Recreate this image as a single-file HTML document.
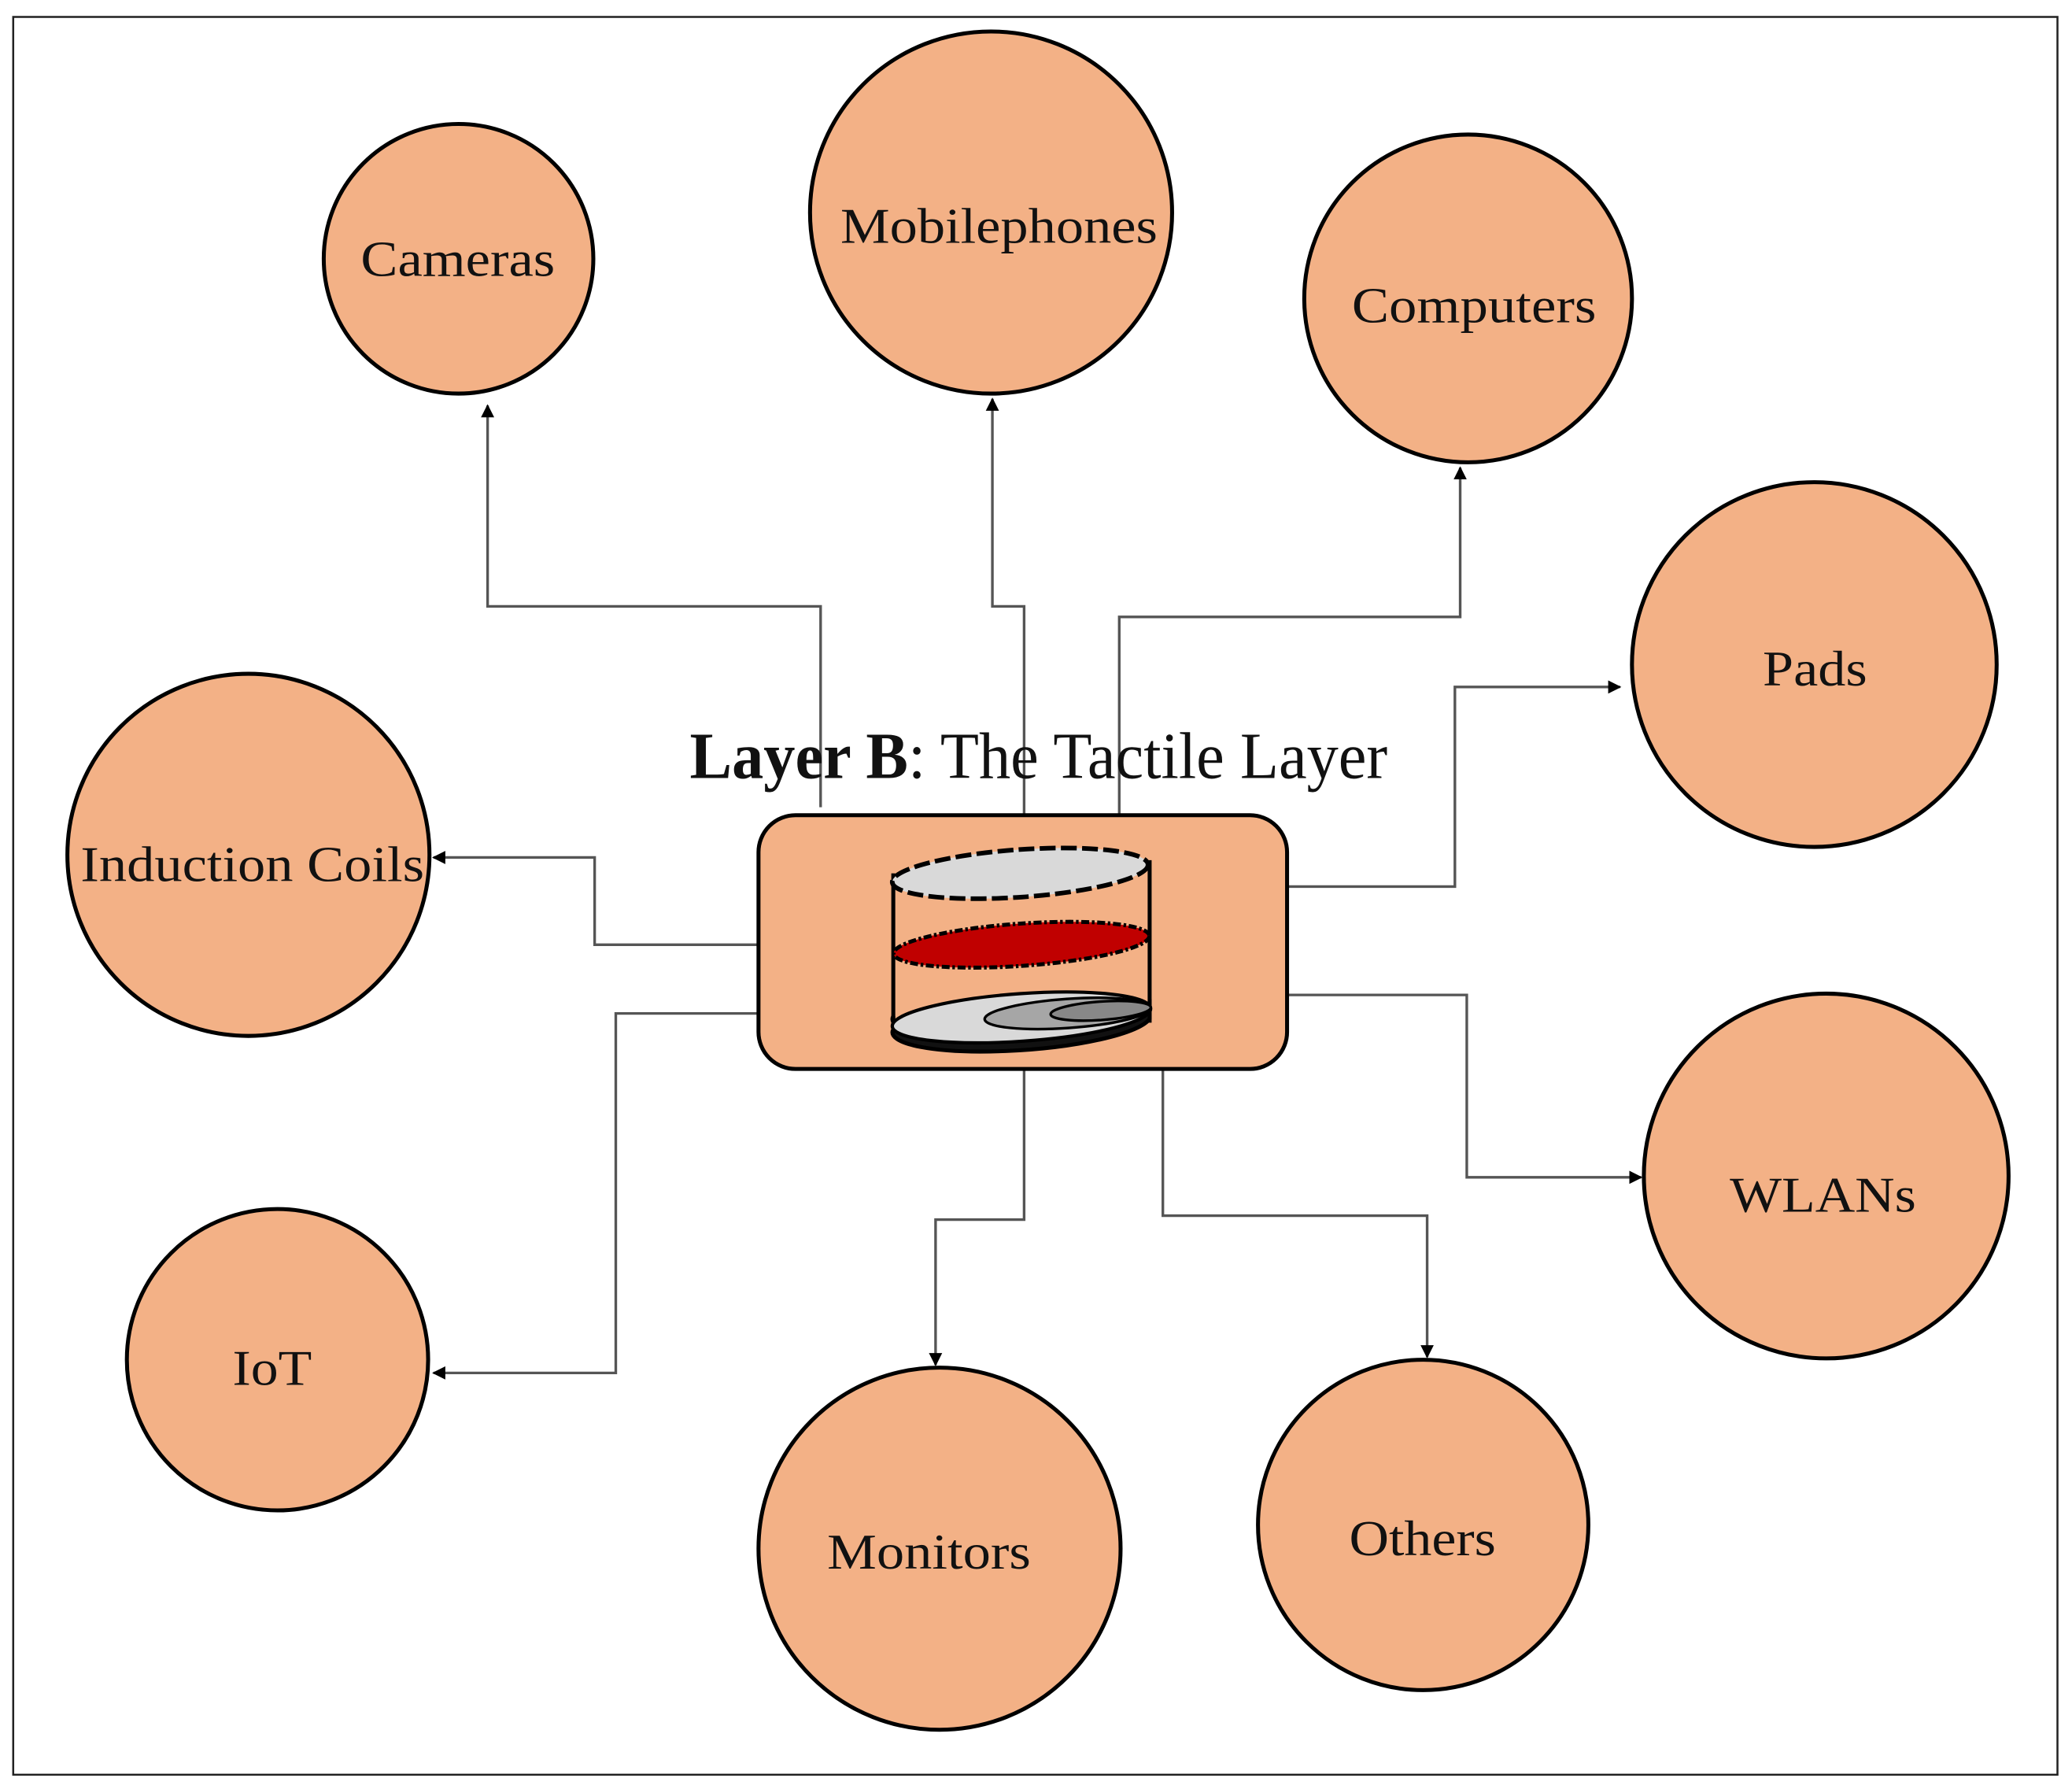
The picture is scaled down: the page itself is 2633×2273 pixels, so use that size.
<!DOCTYPE html>
<html><head><meta charset="utf-8"><style>html,body{margin:0;padding:0;background:#fff}svg{display:block}</style></head><body>
<svg width="2633" height="2273" viewBox="0 0 1568 1352" xmlns="http://www.w3.org/2000/svg" font-family="'Liberation Serif', serif">
<rect x="0" y="0" width="1568" height="1352" fill="#fff"/>
<rect x="10" y="12" width="1547" height="1330" fill="none" stroke="#222" stroke-width="1.5"/>
<defs><marker id="a" markerWidth="10" markerHeight="10" refX="9" refY="5" orient="auto" markerUnits="userSpaceOnUse"><path d="M0,0 L10,5 L0,10 z" fill="#000"/></marker></defs>
<g fill="none" stroke="#555" stroke-width="2">
<polyline points="621,610 621,458 369,458 369,306" marker-end="url(#a)"/>
<polyline points="775,616 775,458 751,458 751,301" marker-end="url(#a)"/>
<polyline points="847,616 847,466 1105,466 1105,353" marker-end="url(#a)"/>
<polyline points="974,670 1101,670 1101,519 1226,519" marker-end="url(#a)"/>
<polyline points="574,714 450,714 450,648 328,648" marker-end="url(#a)"/>
<polyline points="574,766 466,766 466,1038 328,1038" marker-end="url(#a)"/>
<polyline points="775,808 775,922 708,922 708,1032" marker-end="url(#a)"/>
<polyline points="880,808 880,919 1080,919 1080,1026" marker-end="url(#a)"/>
<polyline points="974,752 1110,752 1110,890 1242,890" marker-end="url(#a)"/>
</g>
<g fill="#f3b186" stroke="#000" stroke-width="3">
<circle cx="347" cy="195" r="102"/>
<circle cx="750" cy="160" r="137"/>
<circle cx="1111" cy="225" r="124"/>
<circle cx="1373" cy="502" r="138"/>
<circle cx="188" cy="646" r="137"/>
<circle cx="1382" cy="889" r="138"/>
<circle cx="210" cy="1028" r="114"/>
<circle cx="711" cy="1171" r="137"/>
<circle cx="1077" cy="1153" r="125"/>
<rect x="574" y="616" width="400" height="192" rx="28" ry="28"/>
</g>
<g font-size="38" fill="#111">
<text x="273" y="208" textLength="147" lengthAdjust="spacingAndGlyphs">Cameras</text>
<text x="636" y="183" textLength="240" lengthAdjust="spacingAndGlyphs">Mobilephones</text>
<text x="1023" y="243" textLength="185" lengthAdjust="spacingAndGlyphs">Computers</text>
<text x="1334" y="518" textLength="79" lengthAdjust="spacingAndGlyphs">Pads</text>
<text x="61" y="666" textLength="260" lengthAdjust="spacingAndGlyphs">Induction Coils</text>
<text x="1309" y="916" textLength="141" lengthAdjust="spacingAndGlyphs">WLANs</text>
<text x="176" y="1047" textLength="60" lengthAdjust="spacingAndGlyphs">IoT</text>
<text x="626" y="1186" textLength="154" lengthAdjust="spacingAndGlyphs">Monitors</text>
<text x="1021" y="1176" textLength="111" lengthAdjust="spacingAndGlyphs">Others</text>
</g>
<text x="522" y="588" font-size="50" fill="#111" textLength="528" lengthAdjust="spacingAndGlyphs"><tspan font-weight="bold">Layer B</tspan>: The Tactile Layer</text>
<!-- icon -->
<g stroke="#000" stroke-width="3">
<line x1="676" y1="660" x2="676" y2="773"/>
<line x1="870" y1="650" x2="870" y2="773"/>
<path d="M676,768 A98,20 -4 0 0 870,760 L870,770 A98,20 -4 0 1 676,778 z" fill="#111"/>
<ellipse cx="773" cy="769" rx="98" ry="18" transform="rotate(-4 773 769)" fill="#d9d9d9" stroke-width="2.5"/>
<ellipse cx="808" cy="766" rx="63" ry="11" transform="rotate(-4 808 766)" fill="#a6a6a6" stroke-width="2"/>
<ellipse cx="833" cy="764" rx="38" ry="7" transform="rotate(-4 833 764)" fill="#888" stroke-width="2"/>
<ellipse cx="773" cy="714" rx="97" ry="16" transform="rotate(-4 773 714)" fill="#c00000" stroke-dasharray="6,2,2,2" stroke-width="3"/>
<ellipse cx="772" cy="660" rx="97" ry="18" transform="rotate(-4 772 660)" fill="#d9d9d9" stroke-dasharray="12,4" stroke-width="3.5"/>
</g>
</svg>
</body></html>
